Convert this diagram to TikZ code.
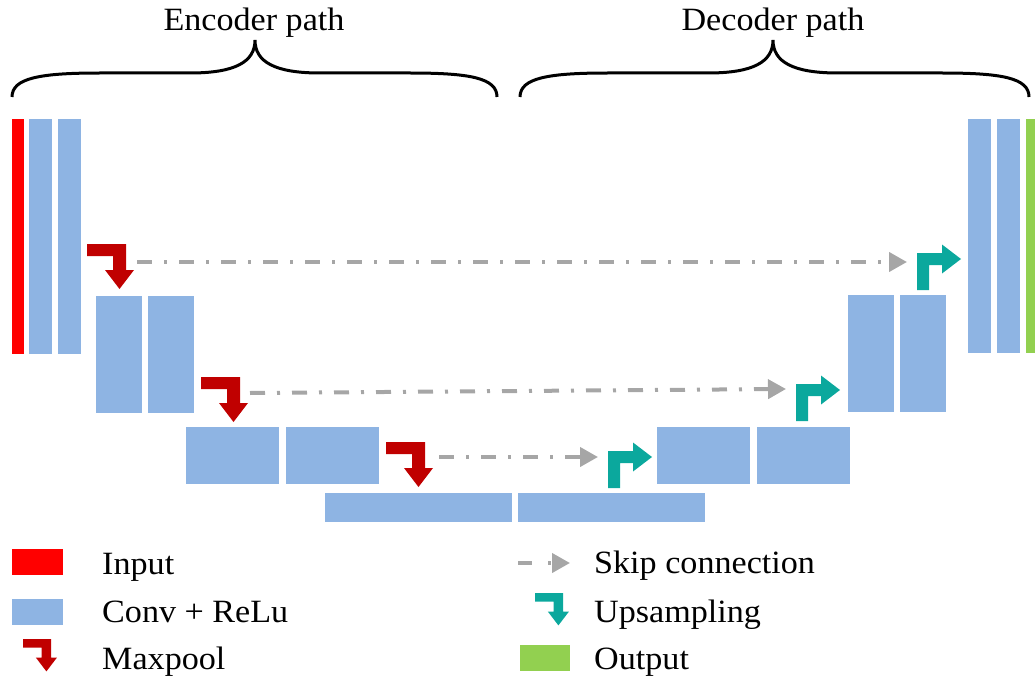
\documentclass[tikz,border=0pt]{standalone}
\usepackage{fontspec}
\setmainfont[FakeStretch=1.05]{Liberation Serif}
\usetikzlibrary{arrows.meta}
\definecolor{convblue}{HTML}{8EB4E3}
\definecolor{inred}{HTML}{FF0000}
\definecolor{poolred}{HTML}{C00000}
\definecolor{upteal}{HTML}{0BA89D}
\definecolor{outgreen}{HTML}{92D050}
\definecolor{skipgray}{HTML}{A6A6A6}
\begin{document}
\begin{tikzpicture}[x=1pt, y=-1pt, font=\fontsize{32.5}{38}\selectfont,
		blk/.style={fill=convblue, draw=white, line width=0.6pt, inner sep=0pt, anchor=north west},
		lbl/.style={inner sep=0pt, anchor=base west},
		skip/.style={draw=skipgray, line width=4pt, dash pattern=on 15pt off 12pt on 3pt off 12pt, -{Triangle[length=18pt, width=19pt]}},
		pics/maxpool/.style={code={\fill[poolred] (0,0) -- (39,0) -- (39,26) -- (47,26) -- (32.5,45) -- (18,26) -- (26,26) -- (26,12) -- (0,12) -- cycle;}},
		pics/upsample/.style={code={\fill[upteal] (0,0) -- (0,-37) -- (25,-37) -- (25,-45.5) -- (44,-31) -- (25,-16.5) -- (25,-25) -- (12,-25) -- (12,0) -- cycle;}}]
	\useasboundingbox (0,0) rectangle (1035,679);
	% braces and titles
	\draw[line width=3pt] (12,97) .. controls (12,78) and (40,73) .. (100,73) -- (190,73) .. controls (235,73) and (255,62) .. (255,40) .. controls (255,62) and (275,73) .. (320,73) -- (410,73) .. controls (470,73) and (497,78) .. (497,97);
	\draw[line width=3pt] (520,97) .. controls (520,78) and (548,73) .. (608,73) -- (708,73) .. controls (753,73) and (773,62) .. (773,40) .. controls (773,62) and (793,73) .. (838,73) -- (942,73) .. controls (1002,73) and (1029,78) .. (1029,97);
	\node[inner sep=0pt, anchor=base] (enc) at (254,31) {Encoder path};
	\node[inner sep=0pt, anchor=base] (dec) at (773,31) {Decoder path};
	% encoder
	\node[blk, fill=inred, minimum width=13, minimum height=236] (in0) at (11,118) {};
	\node[blk, minimum width=24, minimum height=236] (c0a) at (28,118) {};
	\node[blk, minimum width=24, minimum height=236] (c0b) at (57,118) {};
	\node[blk, minimum width=47, minimum height=118] (c1a) at (95,295) {};
	\node[blk, minimum width=47, minimum height=118] (c1b) at (147,295) {};
	\node[blk, minimum width=94, minimum height=58] (c2a) at (185,426) {};
	\node[blk, minimum width=94, minimum height=58] (c2b) at (285,426) {};
	% bottleneck
	\node[blk, minimum width=188, minimum height=30] (b0a) at (324,492) {};
	\node[blk, minimum width=188, minimum height=30] (b0b) at (517,492) {};
	% decoder
	\node[blk, minimum width=94, minimum height=58] (d2a) at (656,426) {};
	\node[blk, minimum width=94, minimum height=58] (d2b) at (756,426) {};
	\node[blk, minimum width=47, minimum height=118] (d1a) at (847,294) {};
	\node[blk, minimum width=47, minimum height=118] (d1b) at (899,294) {};
	\node[blk, minimum width=24, minimum height=235] (d0a) at (967,118) {};
	\node[blk, minimum width=24, minimum height=235] (d0b) at (996,118) {};
	\node[blk, fill=outgreen, minimum width=13, minimum height=235] (out0) at (1025,118) {};
	% maxpool and upsampling
	\foreach \x/\y in {87/244, 201/377, 386/442}
		\pic at (\x,\y) {maxpool};
	\foreach \x/\y in {608/488, 796/421, 917/290}
		\pic at (\x,\y) {upsample};
	% skip connections
	\coordinate (s1a) at (137,262);
	\coordinate (s1b) at (907,262);
	\coordinate (s2a) at (250,393);
	\coordinate (s2b) at (786,389);
	\coordinate (s3a) at (439,457);
	\coordinate (s3b) at (598,457);
	\draw[skip] (s1a) -- (s1b);
	\draw[skip] (s2a) -- (s2b);
	\draw[skip] (s3a) -- (s3b);
	% legend
	\node[blk, fill=inred, minimum width=52, minimum height=27] (legin) at (11,548) {};
	\node[blk, minimum width=52, minimum height=27] (legconv) at (11,598) {};
	\pic[scale=0.72] at (23,639) {maxpool};
	\node[lbl] (txtin) at (102,574) {Input};
	\node[lbl] (txtconv) at (102,622) {Conv + ReLu};
	\node[lbl] (txtpool) at (102,669) {Maxpool};
	\coordinate (k1) at (518,563);
	\coordinate (k2) at (570,563);
	\draw[skip, dash pattern=on 14pt off 16pt on 3pt off 12pt] (k1) -- (k2);
	\pic[scale=0.72, upteal] at (535,593) {code={\fill (0,0) -- (39,0) -- (39,26) -- (47,26) -- (32.5,45) -- (18,26) -- (26,26) -- (26,12) -- (0,12) -- cycle;}};
	\node[blk, fill=outgreen, minimum width=51, minimum height=27] (legout) at (519,644) {};
	\node[lbl] (txtskip) at (594,573) {Skip connection};
	\node[lbl] (txtup) at (594,622) {Upsampling};
	\node[lbl] (txtout) at (594,669) {Output};
\end{tikzpicture}
\end{document}
